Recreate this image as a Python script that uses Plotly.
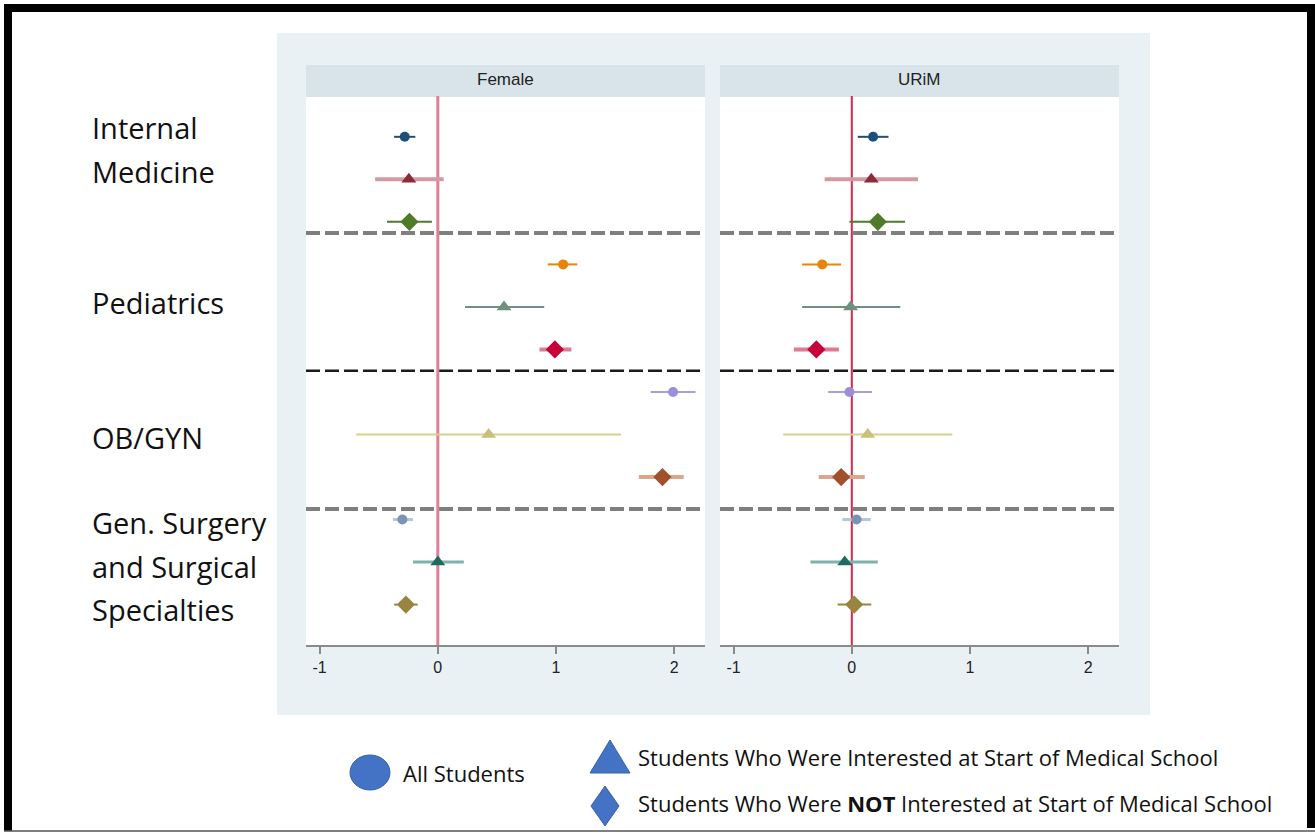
import plotly.graph_objects as go

W, H = 1315, 833

# ---------------- data ----------------
rows = [1, 2, 3, 4, 5, 6, 7, 8, 9, 10, 11, 12]
groups = ["all", "int", "not"] * 4
# Female panel
fem_est = [-0.28, -0.245, -0.24, 1.06, 0.56, 0.99, 1.99, 0.43, 1.90, -0.30, 0.00, -0.27]
fem_lo = [-0.37, -0.53, -0.43, 0.93, 0.23, 0.86, 1.80, -0.69, 1.70, -0.38, -0.21, -0.37]
fem_hi = [-0.19, 0.05, -0.05, 1.18, 0.90, 1.13, 2.18, 1.55, 2.08, -0.21, 0.22, -0.17]
# URiM panel
urm_est = [0.18, 0.165, 0.22, -0.25, -0.01, -0.30, -0.02, 0.135, -0.09, 0.04, -0.06, 0.02]
urm_lo = [0.05, -0.23, -0.02, -0.42, -0.42, -0.49, -0.20, -0.58, -0.28, -0.08, -0.35, -0.12]
urm_hi = [0.31, 0.56, 0.45, -0.09, 0.41, -0.11, 0.17, 0.85, 0.11, 0.16, 0.22, 0.165]

marker_colors = ["#1f4e79", "#8b2b3a", "#4f7a28",
                 "#e8830c", "#6f8f7f", "#c8003a",
                 "#9b8fd8", "#c9c07a", "#a0502a",
                 "#7b93b5", "#1e6b5e", "#9a8540"]
ci_colors = ["#1f4e79", "#d49aa4", "#4f7a28",
             "#e8830c", "#6f8f7f", "#e27891",
             "#a89ee0", "#d6cf8e", "#dca58c",
             "#b5c5da", "#7fb3aa", "#9a8540"]
ci_widths = [2, 4, 2, 2, 2, 4, 2, 2, 4, 3, 3, 2]

label_lines = ["Internal", "Medicine", "Pediatrics", "OB/GYN",
               "Gen. Surgery", "and Surgical", "Specialties"]
label_y_px = [128, 171, 302, 437, 522, 566, 609]
separators = [3.26, 6.5, 9.75]
sep_colors = ["#7f7f7f", "#1a1a1a", "#7f7f7f"]
sep_widths = [4, 2.5, 4]

panel_titles = ["Female", "URiM"]
x_ticks = [-1, 0, 1, 2]

legend_labels = ["All Students",
                 "Students Who Were Interested at Start of Medical School",
                 "Students Who Were <b>NOT</b> Interested at Start of Medical School"]

symbol_map = {"all": "circle", "int": "triangle-up", "not": "diamond"}
size_map = {"all": 10, "int": 13, "not": 14}


def px(x):
    return x / W


def py(y):
    return 1 - y / H


fig = go.Figure()

panels = [(fem_est, fem_lo, fem_hi, "x", "y"), (urm_est, urm_lo, urm_hi, "x2", "y2")]
for est, lo, hi, xa, ya in panels:
    for i in range(len(rows)):
        g = groups[i]
        fig.add_trace(go.Scatter(
            x=[est[i]], y=[rows[i]], xaxis=xa, yaxis=ya, mode="markers",
            marker=dict(symbol=symbol_map[g], size=size_map[g], color=marker_colors[i],
                        line=dict(width=0)),
            error_x=dict(type="data", symmetric=False,
                         array=[hi[i] - est[i]], arrayminus=[est[i] - lo[i]],
                         color=ci_colors[i], thickness=ci_widths[i], width=0),
            showlegend=False, hoverinfo="skip"))

x_dom1 = [px(306), px(705)]
x_dom2 = [px(720), px(1119)]
y_dom = [py(645), py(96)]
xr = [-1.115, 2.26]
yr = [12.95, 0.04]

axis_common = dict(range=xr, tickvals=x_ticks, ticktext=[str(t) for t in x_ticks],
                   showgrid=False, zeroline=False, showline=True, linecolor="#8a8a8a",
                   linewidth=1.5, ticks="outside", ticklen=7, tickcolor="#8a8a8a",
                   tickwidth=1.5, tickfont=dict(family="Liberation Sans, Arial", size=16, color="#222"))
yaxis_common = dict(range=yr, showgrid=False, zeroline=False, showticklabels=False,
                    showline=False, ticks="")

fig.update_layout(
    width=W, height=H, margin=dict(l=0, r=0, t=0, b=0),
    paper_bgcolor="white", plot_bgcolor="white",
    xaxis=dict(domain=x_dom1, anchor="y", **axis_common),
    xaxis2=dict(domain=x_dom2, anchor="y2", **axis_common),
    yaxis=dict(domain=y_dom, anchor="x", **yaxis_common),
    yaxis2=dict(domain=y_dom, anchor="x2", **yaxis_common),
)

shapes = []
# outer border
shapes.append(dict(type="rect", xref="paper", yref="paper", x0=px(4), x1=px(12), y0=py(831), y1=py(4),
                   fillcolor="black", line=dict(width=0), layer="above"))
shapes.append(dict(type="rect", xref="paper", yref="paper", x0=px(4), x1=px(1315), y0=py(12), y1=py(4),
                   fillcolor="black", line=dict(width=0), layer="above"))
shapes.append(dict(type="rect", xref="paper", yref="paper", x0=px(1307), x1=px(1315), y0=py(828), y1=py(4),
                   fillcolor="black", line=dict(width=0), layer="above"))
shapes.append(dict(type="line", xref="paper", yref="paper", x0=px(4), x1=px(1315), y0=py(831), y1=py(831),
                   line=dict(color="#555", width=1.5), layer="above"))
# graph background
shapes.append(dict(type="rect", xref="paper", yref="paper", x0=px(277), x1=px(1150), y0=py(715), y1=py(33),
                   fillcolor="#eaf1f4", line=dict(width=0), layer="below"))
# white plot regions and header strips
for x0, x1 in [(306, 705), (720, 1119)]:
    shapes.append(dict(type="rect", xref="paper", yref="paper", x0=px(x0), x1=px(x1), y0=py(645), y1=py(96),
                       fillcolor="white", line=dict(width=0), layer="below"))
    shapes.append(dict(type="rect", xref="paper", yref="paper", x0=px(x0), x1=px(x1), y0=py(97), y1=py(65),
                       fillcolor="#d8e3ea", line=dict(width=0), layer="below"))
# separators
for xa in ["x", "x2"]:
    for yv, c, w in zip(separators, sep_colors, sep_widths):
        shapes.append(dict(type="line", xref=xa + " domain", yref=xa.replace("x", "y"),
                           x0=0, x1=0.995, y0=yv, y1=yv,
                           line=dict(color=c, width=w, dash="14px,5px"), layer="below"))
# zero reference lines
shapes.append(dict(type="line", xref="x", yref="y domain", x0=0, x1=0, y0=0, y1=1,
                   line=dict(color="#e37d95", width=3), layer="below"))
shapes.append(dict(type="line", xref="x2", yref="y2 domain", x0=0, x1=0, y0=0, y1=1,
                   line=dict(color="#d62a4e", width=2), layer="below"))

# legend glyphs
shapes.append(dict(type="circle", xref="paper", yref="paper", x0=px(350), x1=px(390), y0=py(790), y1=py(755),
                   fillcolor="#4472c4", line=dict(color="#3a62a8", width=1)))
tri = f"M {px(590)} {py(773)} L {px(630)} {py(773)} L {px(610)} {py(740)} Z"
shapes.append(dict(type="path", xref="paper", yref="paper", path=tri,
                   fillcolor="#4472c4", line=dict(color="#3a62a8", width=1)))
dia = f"M {px(605)} {py(786)} L {px(619)} {py(806)} L {px(605)} {py(826)} L {px(591)} {py(806)} Z"
shapes.append(dict(type="path", xref="paper", yref="paper", path=dia,
                   fillcolor="#4472c4", line=dict(color="#3a62a8", width=1)))
fig.update_layout(shapes=shapes)

annotations = []
for label, yv in zip(label_lines, label_y_px):
    annotations.append(dict(text=label, xref="paper", yref="paper", x=px(90), y=py(yv),
                            xanchor="left", yanchor="middle", align="left", showarrow=False,
                            font=dict(family="Open Sans", size=29, color="#111")))
for title, cx in zip(panel_titles, [505.5, 919.5]):
    annotations.append(dict(text=title, xref="paper", yref="paper", x=px(cx), y=py(80),
                            xanchor="center", yanchor="middle", showarrow=False,
                            font=dict(family="Liberation Sans, Arial", size=17, color="#222")))
annotations.append(dict(text=legend_labels[0], xref="paper", yref="paper", x=px(401), y=py(773),
                        xanchor="left", yanchor="middle", showarrow=False,
                        font=dict(family="Open Sans", size=22, color="#111")))
annotations.append(dict(text=legend_labels[1], xref="paper", yref="paper", x=px(636), y=py(757),
                        xanchor="left", yanchor="middle", showarrow=False,
                        font=dict(family="Open Sans", size=22, color="#111")))
annotations.append(dict(text=legend_labels[2], xref="paper", yref="paper", x=px(636), y=py(803),
                        xanchor="left", yanchor="middle", showarrow=False,
                        font=dict(family="Open Sans", size=22, color="#111")))
fig.update_layout(annotations=annotations)

fig.write_html("out.html", config={"displayModeBar": False},
               post_script="document.body.style.margin='0';")
